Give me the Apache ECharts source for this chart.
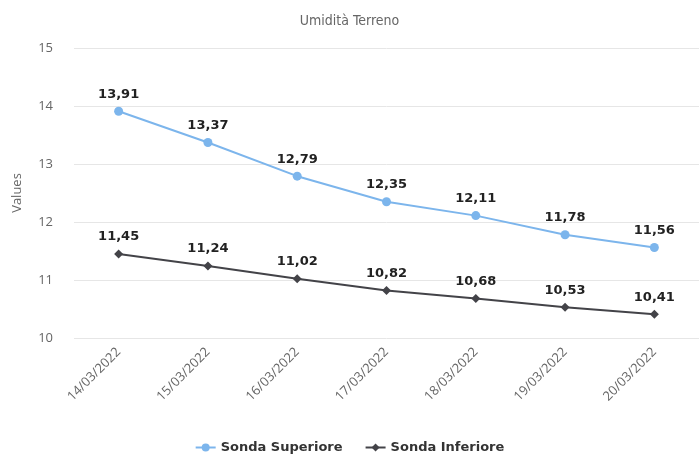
<!DOCTYPE html>
<html>
<head>
<meta charset="utf-8">
<script src="https://cdn.jsdelivr.net/npm/echarts@6/dist/echarts.min.js"></script>
<style>html,body{margin:0;padding:0;background:#fff}#c{width:699px;height:455px}</style>
</head>
<body>
<div id="c"></div>
<script>
const categories = ["14/03/2022","15/03/2022","16/03/2022","17/03/2022","18/03/2022","19/03/2022","20/03/2022"];
const sondaSuperiore = [13.91, 13.37, 12.79, 12.35, 12.11, 11.78, 11.56];
const sondaInferiore = [11.45, 11.24, 11.02, 10.82, 10.68, 10.53, 10.41];
const yTicks = [10, 11, 12, 13, 14, 15];

const chart = echarts.init(document.getElementById('c'), null, {renderer: 'canvas'});
const fmt = p => p.value.toFixed(2).replace('.', ',');
const lbl = {show: true, position: 'top', distance: 6, formatter: fmt, color: '#222', fontWeight: 'bold', fontSize: 13, fontFamily: 'DejaVu Sans'};
chart.setOption({
  animation: false,
  title: {text: 'Umidità Terreno', left: 'center', top: 9, textStyle: {fontSize: 14, fontWeight: 'normal', color: '#666', fontFamily: 'DejaVu Sans Condensed, DejaVu Sans'}},
  legend: {top: 436, left: 'center', itemGap: 22, itemWidth: 20, itemHeight: 10,
    textStyle: {fontSize: 13, fontWeight: 'bold', color: '#333', fontFamily: 'DejaVu Sans'},
    data: ['Sonda Superiore', 'Sonda Inferiore']},
  grid: {left: 74, right: -5, top: 48, bottom: 117},
  xAxis: {type: 'category', data: categories, boundaryGap: true,
    axisLine: {show: false}, axisTick: {show: false},
    axisLabel: {rotate: 45, color: '#666', fontSize: 13, fontFamily: 'Open Sans', margin: 12}},
  yAxis: {type: 'value', min: yTicks[0], max: yTicks[yTicks.length - 1], interval: 1,
    name: 'Values', nameLocation: 'middle', nameGap: 50, nameRotate: 90,
    nameTextStyle: {color: '#666', fontSize: 13, fontFamily: 'Open Sans'},
    axisLabel: {color: '#666', fontSize: 13, fontFamily: 'Open Sans', margin: 21},
    splitLine: {lineStyle: {color: '#e6e6e6'}}},
  series: [
    {name: 'Sonda Superiore', type: 'line', data: sondaSuperiore, color: '#7cb5ec', symbol: 'circle', symbolSize: 9,
      lineStyle: {width: 2}, label: lbl},
    {name: 'Sonda Inferiore', type: 'line', data: sondaInferiore, color: '#434348', symbol: 'diamond', symbolSize: 9,
      lineStyle: {width: 2}, label: lbl}
  ]
});
</script>
</body>
</html>
